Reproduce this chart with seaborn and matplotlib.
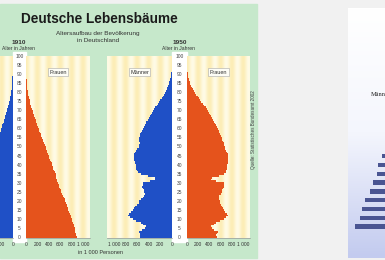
import numpy as np
import matplotlib
matplotlib.use("Agg")
import matplotlib.pyplot as plt
import seaborn as sns

# Alter 0..99, Werte in 1 000 Personen
ages = list(range(100))

maenner_1910 = [930, 905, 895, 885, 875, 870, 860, 850, 835, 825,
                815, 805, 790, 775, 760, 750, 740, 730, 715, 700,
                690, 675, 660, 645, 630, 615, 600, 590, 575, 560,
                550, 540, 530, 520, 510, 500, 490, 475, 465, 455,
                445, 435, 420, 410, 395, 385, 375, 360, 350, 340,
                325, 315, 300, 285, 270, 260, 250, 235, 220, 210,
                200, 190, 180, 170, 160, 150, 140, 130, 120, 110,
                100, 92, 84, 76, 68, 60, 53, 46, 40, 34,
                29, 24, 20, 16, 13, 11, 9, 7, 5, 4,
                3, 2, 1, 1, 1, 0, 0, 0, 0, 0]

frauen_1910 = [900, 880, 870, 860, 855, 850, 845, 835, 820, 810,
               800, 790, 780, 765, 750, 740, 730, 720, 710, 700,
               690, 675, 660, 645, 630, 620, 610, 595, 585, 570,
               560, 550, 540, 530, 525, 520, 505, 490, 480, 470,
               460, 450, 435, 425, 410, 400, 390, 375, 365, 355,
               345, 330, 315, 300, 290, 280, 270, 255, 240, 230,
               220, 210, 200, 190, 180, 170, 160, 145, 135, 125,
               115, 105, 95, 85, 78, 70, 62, 55, 48, 41,
               35, 30, 25, 21, 18, 15, 12, 9, 7, 5,
               4, 3, 2, 1, 1, 1, 0, 0, 0, 0]

maenner_1950 = [560, 545, 560, 575, 510, 470, 455, 500, 540, 620,
                680, 720, 755, 740, 700, 680, 660, 640, 600, 575,
                570, 540, 500, 480, 470, 475, 490, 500, 510, 505,
                500, 380, 290, 300, 420, 535, 580, 610, 620, 625,
                625, 630, 640, 650, 655, 655, 650, 640, 620, 600,
                575, 570, 560, 565, 570, 570, 560, 545, 530, 515,
                505, 490, 470, 455, 440, 420, 400, 380, 360, 345,
                330, 310, 290, 265, 240, 220, 200, 180, 160, 140,
                120, 105, 90, 78, 68, 58, 48, 38, 30, 22,
                16, 11, 8, 5, 3, 2, 1, 1, 0, 0]

frauen_1950 = [530, 515, 530, 545, 485, 445, 430, 475, 515, 590,
               650, 690, 725, 710, 675, 665, 645, 630, 600, 590,
               585, 570, 560, 575, 600, 615, 630, 645, 655, 665,
               665, 520, 430, 450, 560, 660, 690, 700, 705, 710,
               715, 720, 725, 730, 730, 730, 720, 705, 690, 680,
               670, 660, 650, 640, 630, 615, 600, 590, 575, 565,
               555, 535, 515, 495, 480, 465, 445, 425, 405, 390,
               375, 350, 330, 305, 280, 255, 235, 210, 190, 165,
               140, 120, 105, 90, 75, 62, 50, 40, 31, 24,
               17, 12, 8, 5, 3, 2, 1, 1, 0, 0]

# zweites Bild rechts (nur Ausschnitt sichtbar)
rechts_werte = [13, 18, 22, 23, 27, 30, 35, 38, 40, 45]

x_ticks = [0, 200, 400, 600, 800, 1000]
x_ticklabels = ["0", "200", "400", "600", "800", "1 000"]

W, H = 385, 260
GREEN = "#c6e8cb"
BLUE = "#1f50c6"
ORANGE = "#e5531c"

plt.rcParams["font.family"] = ["Liberation Sans", "DejaVu Sans"]
fig = plt.figure(figsize=(W / 100, H / 100), dpi=100)
fig.patch.set_facecolor("#f1f1f1")


def px_axes(x0, y0, x1, y1):
    return fig.add_axes([x0 / W, 1 - y1 / H, (x1 - x0) / W, (y1 - y0) / H])


# Hintergrund in Pixelkoordinaten
bg = px_axes(0, 0, W, H)
bg.set_xlim(0, W)
bg.set_ylim(H, 0)
bg.axis("off")
bg.add_patch(plt.Rectangle((0, 4), 257, 254, color=GREEN, zorder=0))
bg.add_patch(plt.Rectangle((12.7, 52), 13.3, 190, color="white", zorder=1))
bg.add_patch(plt.Rectangle((172, 52), 15, 190, color="white", zorder=1))

# Verlauf fuer das rechte Bild
grad = np.linspace(0, 1, 100).reshape(-1, 1)
cmap_r = matplotlib.colors.LinearSegmentedColormap.from_list("r", ["#ffffff", "#f4f6fd", "#c3cbef"])
bg.imshow(grad, extent=(348, 392, 258, 8), cmap=cmap_r, aspect="auto", zorder=1)
bg.text(371, 95, "Männer", fontsize=4.5, family="Liberation Serif", color="#222", va="center", zorder=3)

bg.text(99, 19, "Deutsche Lebensbäume", fontsize=9.8, fontweight="bold", color="#1b1b1b",
        ha="center", va="center")
bg.text(98, 33, "Altersaufbau der Bevölkerung", fontsize=4.6, color="#333", ha="center", va="center")
bg.text(98, 41, "in Deutschland", fontsize=4.6, color="#333", ha="center", va="center")
bg.text(19, 43, "1910", fontsize=4.6, fontweight="bold", color="#333", ha="center", va="center")
bg.text(18, 49, "Alter in Jahren", fontsize=3.6, color="#333", ha="center", va="center")
bg.text(180, 43, "1950", fontsize=4.6, fontweight="bold", color="#333", ha="center", va="center")
bg.text(178, 49, "Alter in Jahren", fontsize=3.6, color="#333", ha="center", va="center")
bg.text(100, 253, "in 1 000 Personen", fontsize=4, color="#333", ha="center", va="center")
bg.text(253, 130, "Quelle: Statistisches Bundesamt 2002", fontsize=3.3, color="#444",
        rotation=90, ha="center", va="center")

# Streifen im Hintergrund der Panels
xs = np.linspace(0, 1120, 400)
stripe = (0.5 + 0.5 * np.cos(2 * np.pi * xs / 200)).reshape(1, -1)
cmap_s = matplotlib.colors.LinearSegmentedColormap.from_list("s", ["#fffbe6", "#fcedb6"])


def panel(x0, x1, vals, color, invert, label=None):
    ax = px_axes(x0, 56, x1, 238)
    ax.imshow(stripe, extent=(0, 1120, -0.5, 100.5), cmap=cmap_s, aspect="auto", zorder=0)
    sns.barplot(x=vals, y=ages, orient="y", native_scale=True, color=color, width=1,
                linewidth=0, errorbar=None, saturation=1, ax=ax, zorder=2)
    ax.set_xlim(0, 1120)
    if invert:
        ax.invert_xaxis()
    ax.set_ylim(-0.5, 100.5)
    ax.set_xlabel("")
    ax.set_ylabel("")
    ax.set_yticks([])
    ax.set_xticks(x_ticks)
    ax.set_xticklabels(x_ticklabels, fontsize=3.5, color="#333")
    ax.tick_params(axis="x", length=0, pad=3)
    for s in ["top", "left", "right"]:
        ax.spines[s].set_visible(False)
    ax.spines["bottom"].set_color("#999")
    ax.spines["bottom"].set_linewidth(0.5)
    if label:
        ax.text(0.5, 0.91, label, transform=ax.transAxes, fontsize=4, color="#333",
                ha="center", va="center",
                bbox=dict(boxstyle="square,pad=0.25", fc="#fdfdf6", ec="#aaa", lw=0.4))
    return ax


panel(-51, 12.7, maenner_1910, BLUE, True)
panel(26, 90, frauen_1910, ORANGE, False, "Frauen")
panel(107, 172, maenner_1950, BLUE, True, "Männer")
panel(187, 250, frauen_1950, ORANGE, False, "Frauen")

# Alterslabels in den weissen Streifen
for x0, x1 in [(12.7, 26), (172, 187)]:
    sa = px_axes(x0, 56, x1, 238)
    sa.set_ylim(-0.5, 100.5)
    sa.set_xlim(0, 1)
    sa.axis("off")
    for a in range(0, 101, 5):
        sa.text(0.5, a, str(a), fontsize=3.5, color="#444", ha="center", va="center")

# rechtes Bild: Balken, nach links vom (nicht sichtbaren) Zentrum
ra = px_axes(348, 143, 400, 231)
sns.barplot(x=rechts_werte, y=list(range(len(rechts_werte))), orient="y", color="#4a5592",
            width=0.5, linewidth=0, errorbar=None, saturation=1, ax=ra)
ra.set_xlim(52, 0)
ra.axis("off")

fig.savefig("out.png", dpi=100, facecolor=fig.get_facecolor())
